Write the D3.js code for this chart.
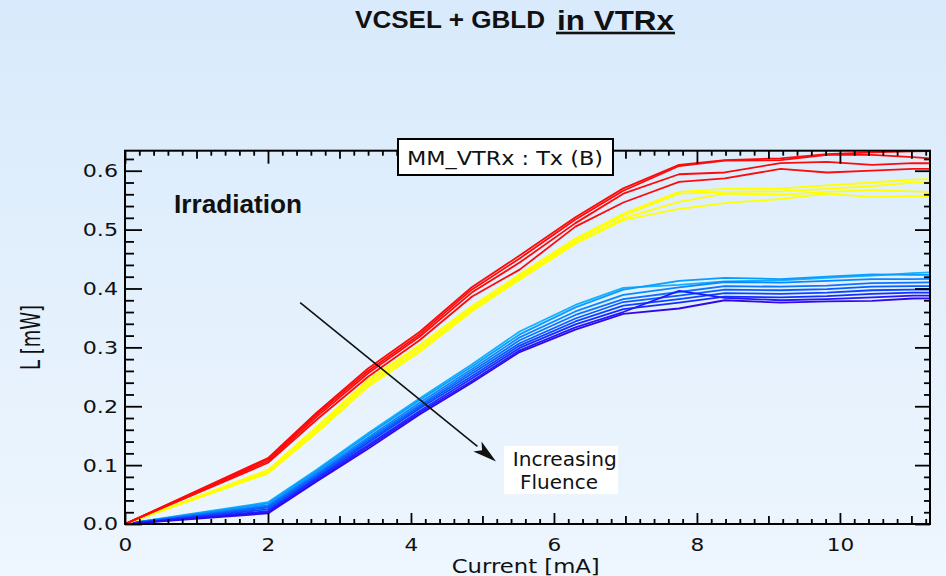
<!DOCTYPE html>
<html>
<head>
<meta charset="utf-8">
<script src="https://cdn.jsdelivr.net/npm/d3@7"></script>
<style>
  html, body { margin: 0; padding: 0; background: #e3effb; }
  svg { display: block; }
</style>
</head>
<body>
<svg id="chart" width="946" height="576"></svg>
<script>
// Drive current (mA) at which light output was sampled
const currents = [0, 2, 2.68, 3.4, 4.12, 4.85, 5.52, 6.3, 6.97, 7.75, 8.39, 9.17, 9.82, 10.45, 11.02, 11.7];

// Optical power L (mW), pre-irradiation (red)
const redCurves = [
  [0, 0.112, 0.189, 0.264, 0.326, 0.402, 0.456, 0.521, 0.570, 0.610, 0.618, 0.621, 0.628, 0.631, 0.633, 0.634],
  [0, 0.110, 0.186, 0.260, 0.322, 0.398, 0.451, 0.517, 0.566, 0.608, 0.617, 0.618, 0.627, 0.627, 0.623, 0.617],
  [0, 0.107, 0.182, 0.256, 0.318, 0.393, 0.444, 0.511, 0.561, 0.594, 0.597, 0.613, 0.615, 0.610, 0.613, 0.612],
  [0, 0.104, 0.177, 0.250, 0.312, 0.386, 0.432, 0.505, 0.546, 0.581, 0.587, 0.603, 0.597, 0.600, 0.603, 0.603]
];

// Optical power L (mW), first fluence step (yellow)
const yellowCurves = [
  [0, 0.092, 0.165, 0.245, 0.304, 0.370, 0.424, 0.485, 0.527, 0.564, 0.569, 0.570, 0.575, 0.580, 0.585, 0.587],
  [0, 0.090, 0.162, 0.241, 0.300, 0.367, 0.421, 0.482, 0.524, 0.561, 0.564, 0.565, 0.569, 0.574, 0.580, 0.580],
  [0, 0.088, 0.158, 0.237, 0.296, 0.364, 0.418, 0.479, 0.519, 0.547, 0.561, 0.559, 0.564, 0.567, 0.565, 0.562],
  [0, 0.086, 0.155, 0.233, 0.292, 0.361, 0.415, 0.476, 0.516, 0.535, 0.545, 0.552, 0.561, 0.555, 0.557, 0.557]
];

// Optical power L (mW), increasing fluence (light blue -> violet)
const blueCurves = [
  [0, 0.037, 0.092, 0.154, 0.213, 0.271, 0.327, 0.372, 0.401, 0.406, 0.412, 0.414, 0.418, 0.422, 0.426, 0.430],
  [0, 0.035, 0.090, 0.151, 0.210, 0.267, 0.322, 0.368, 0.398, 0.413, 0.418, 0.416, 0.420, 0.424, 0.423, 0.423],
  [0, 0.032, 0.087, 0.147, 0.206, 0.263, 0.317, 0.361, 0.389, 0.402, 0.411, 0.410, 0.413, 0.416, 0.416, 0.417],
  [0, 0.030, 0.084, 0.144, 0.202, 0.259, 0.312, 0.355, 0.382, 0.394, 0.404, 0.403, 0.405, 0.409, 0.410, 0.411],
  [0, 0.028, 0.082, 0.141, 0.199, 0.255, 0.307, 0.349, 0.377, 0.388, 0.398, 0.397, 0.399, 0.403, 0.404, 0.404],
  [0, 0.025, 0.079, 0.138, 0.196, 0.251, 0.303, 0.344, 0.371, 0.382, 0.392, 0.391, 0.393, 0.397, 0.398, 0.398],
  [0, 0.022, 0.077, 0.134, 0.192, 0.247, 0.299, 0.339, 0.365, 0.376, 0.386, 0.385, 0.387, 0.391, 0.393, 0.393],
  [0, 0.020, 0.074, 0.131, 0.189, 0.243, 0.295, 0.334, 0.360, 0.396, 0.384, 0.380, 0.382, 0.385, 0.388, 0.388],
  [0, 0.018, 0.072, 0.128, 0.186, 0.240, 0.292, 0.330, 0.357, 0.366, 0.380, 0.376, 0.378, 0.379, 0.383, 0.384]
];

const blueColors = ["#12b0ff", "#0a9cff", "#0a88ff", "#0a74ff", "#0a5cff", "#0a44ff", "#142cff", "#2418f6", "#3208ea"];

// Axis ticks
const xTickValues = [0, 2, 4, 6, 8, 10];
const xTickLabels = ["0", "2", "4", "6", "8", "10"];
const yTickValues = [0, 0.1, 0.2, 0.3, 0.4, 0.5, 0.6];
const yTickLabels = ["0.0", "0.1", "0.2", "0.3", "0.4", "0.5", "0.6"];

const svg = d3.select("#chart");
const W = 946, H = 576;
const plot = { left: 125, right: 930, top: 150.7, bottom: 524 };

const x = d3.scaleLinear().domain([0, 11.26]).range([plot.left, plot.right]);
const y = d3.scaleLinear().domain([0, 0.634]).range([plot.bottom, plot.top]);

// Background gradient
const defs = svg.append("defs");
const grad = defs.append("linearGradient").attr("id", "bg")
  .attr("x1", 0).attr("y1", 0).attr("x2", 0).attr("y2", 1);
grad.append("stop").attr("offset", "0%").attr("stop-color", "#d8eafb");
grad.append("stop").attr("offset", "100%").attr("stop-color", "#eef6fe");
svg.append("rect").attr("width", W).attr("height", H).attr("fill", "url(#bg)");

defs.append("clipPath").attr("id", "plotClip").append("rect")
  .attr("x", plot.left).attr("y", plot.top)
  .attr("width", plot.right - plot.left).attr("height", plot.bottom - plot.top);

// Title
const title = svg.append("g").attr("font-family", "Liberation Sans, Arial, sans-serif").attr("font-weight", "bold").attr("fill", "#111");
title.append("text").attr("x", 355).attr("y", 28).attr("font-size", 23.5)
  .attr("textLength", 190).attr("lengthAdjust", "spacingAndGlyphs").text("VCSEL + GBLD");
title.append("text").attr("x", 557).attr("y", 29.5).attr("font-size", 28)
  .attr("textLength", 117).attr("lengthAdjust", "spacingAndGlyphs").text("in VTRx");
title.append("rect").attr("x", 556).attr("y", 31.7).attr("width", 119).attr("height", 2.6).attr("fill", "#111");

// Curves
const line = d3.line().x((d, i) => x(currents[i])).y(d => y(d));
const curves = svg.append("g").attr("clip-path", "url(#plotClip)").attr("fill", "none")
  .attr("stroke-linejoin", "round");

curves.selectAll("path.blue").data(blueCurves).join("path").attr("class", "blue")
  .attr("d", line).attr("stroke", (d, i) => blueColors[i]).attr("stroke-width", 1.8);
curves.selectAll("path.yellow").data(yellowCurves).join("path").attr("class", "yellow")
  .attr("d", line).attr("stroke", "#ffff00").attr("stroke-width", 1.8);
curves.selectAll("path.red").data(redCurves).join("path").attr("class", "red")
  .attr("d", line).attr("stroke", "#ff0a0a").attr("stroke-width", 1.8);

// Axes: ticks point inward on all four sides
const tickFont = "DejaVu Sans, Verdana, sans-serif";
const SX = 1.2;
const near = (v, arr) => arr.some(a => Math.abs(a - v) < 1e-6);

const xMinor = d3.range(0, 11.27, 0.2).map(v => +v.toFixed(2)).filter(v => Math.abs(v - Math.round(v)) > 1e-6);
const xOdd = [1, 3, 5, 7, 9, 11];
const yMinor = d3.range(0, 0.634, 0.02).map(v => +v.toFixed(3)).filter(v => !near(v, yTickValues));

function styleAxis(g) {
  g.select(".domain").remove();
  g.selectAll("line").attr("stroke", "#000").attr("stroke-width", 1.8);
}

// bottom
svg.append("g").attr("transform", `translate(0,${plot.bottom})`)
  .call(d3.axisBottom(x).tickValues(xMinor).tickSize(-5).tickFormat("")).call(styleAxis);
svg.append("g").attr("transform", `translate(0,${plot.bottom})`)
  .call(d3.axisBottom(x).tickValues(xOdd).tickSize(-8).tickFormat("")).call(styleAxis);
const xAxisG = svg.append("g").attr("transform", `translate(0,${plot.bottom})`)
  .call(d3.axisBottom(x).tickValues(xTickValues).tickSize(-11).tickPadding(14)
    .tickFormat((d, i) => xTickLabels[i])).call(styleAxis);
xAxisG.selectAll("text").attr("font-family", tickFont).attr("font-size", 18)
  .attr("fill", "#111").attr("transform", `scale(${SX},1)`);

// top
svg.append("g").attr("transform", `translate(0,${plot.top})`)
  .call(d3.axisTop(x).tickValues(xMinor).tickSize(-5).tickFormat("")).call(styleAxis);
svg.append("g").attr("transform", `translate(0,${plot.top})`)
  .call(d3.axisTop(x).tickValues(xOdd).tickSize(-8).tickFormat("")).call(styleAxis);
svg.append("g").attr("transform", `translate(0,${plot.top})`)
  .call(d3.axisTop(x).tickValues(xTickValues).tickSize(-13).tickFormat("")).call(styleAxis);

// left
svg.append("g").attr("transform", `translate(${plot.left},0)`)
  .call(d3.axisLeft(y).tickValues(yMinor).tickSize(-9).tickFormat("")).call(styleAxis);
const yAxisG = svg.append("g").attr("transform", `translate(${plot.left},0)`)
  .call(d3.axisLeft(y).tickValues(yTickValues).tickSize(-17).tickPadding(5.8)
    .tickFormat((d, i) => yTickLabels[i])).call(styleAxis);
yAxisG.selectAll("text").attr("font-family", tickFont).attr("font-size", 18.5)
  .attr("fill", "#111").attr("transform", `scale(${SX},1)`);

// right
svg.append("g").attr("transform", `translate(${plot.right},0)`)
  .call(d3.axisRight(y).tickValues(yMinor).tickSize(-6).tickFormat("")).call(styleAxis);
svg.append("g").attr("transform", `translate(${plot.right},0)`)
  .call(d3.axisRight(y).tickValues(yTickValues).tickSize(-15).tickFormat("")).call(styleAxis);

// frame
svg.append("rect").attr("x", plot.left).attr("y", plot.top)
  .attr("width", plot.right - plot.left).attr("height", plot.bottom - plot.top)
  .attr("fill", "none").attr("stroke", "#000").attr("stroke-width", 2);

// Axis titles
svg.append("text").attr("x", 451.7).attr("y", 572.5).attr("font-family", tickFont).attr("font-size", 19)
  .attr("fill", "#111").attr("textLength", 148).attr("lengthAdjust", "spacingAndGlyphs").text("Current [mA]");
svg.append("text").attr("transform", "translate(40,370) scale(1.45,1) rotate(-90)")
  .attr("font-family", tickFont).attr("font-size", 18).attr("fill", "#111")
  .attr("textLength", 65).attr("lengthAdjust", "spacingAndGlyphs").text("L [mW]");

// Plot label box
svg.append("rect").attr("x", 398).attr("y", 139).attr("width", 215).attr("height", 36)
  .attr("fill", "#fff").attr("stroke", "#000").attr("stroke-width", 2);
svg.append("text").attr("x", 407).attr("y", 165).attr("font-family", tickFont).attr("font-size", 20)
  .attr("fill", "#111").attr("textLength", 196).attr("lengthAdjust", "spacingAndGlyphs").text("MM_VTRx : Tx (B)");

// Irradiation label
svg.append("text").attr("x", 174).attr("y", 213).attr("font-family", "Liberation Sans, Arial, sans-serif")
  .attr("font-weight", "bold").attr("font-size", 26).attr("fill", "#111")
  .attr("textLength", 128).attr("lengthAdjust", "spacingAndGlyphs").text("Irradiation");

// Fluence arrow
const arrowFrom = [2.45, 0.376], arrowTo = [5.19, 0.106];
const ax0 = x(arrowFrom[0]), ay0 = y(arrowFrom[1]), ax1 = x(arrowTo[0]), ay1 = y(arrowTo[1]);
const ang = Math.atan2(ay1 - ay0, ax1 - ax0);
const headLen = 24, headHalf = 6.5;
const bx = ax1 - headLen * Math.cos(ang), by = ay1 - headLen * Math.sin(ang);
svg.append("line").attr("x1", ax0).attr("y1", ay0).attr("x2", bx).attr("y2", by)
  .attr("stroke", "#111").attr("stroke-width", 1.6);
svg.append("path").attr("fill", "#111").attr("d", d3.line()([
  [ax1, ay1],
  [bx + headHalf * Math.sin(ang), by - headHalf * Math.cos(ang)],
  [bx + 0.25 * headLen * Math.cos(ang), by + 0.25 * headLen * Math.sin(ang)],
  [bx - headHalf * Math.sin(ang), by + headHalf * Math.cos(ang)]
]) + "Z");

// Increasing fluence note
svg.append("rect").attr("x", 504).attr("y", 446).attr("width", 114).attr("height", 48).attr("fill", "#fff");
svg.append("text").attr("x", 512.7).attr("y", 466).attr("font-family", tickFont).attr("font-size", 19.5)
  .attr("fill", "#111").attr("textLength", 104).attr("lengthAdjust", "spacingAndGlyphs").text("Increasing");
svg.append("text").attr("x", 520).attr("y", 489.3).attr("font-family", tickFont).attr("font-size", 19.5)
  .attr("fill", "#111").attr("textLength", 78).attr("lengthAdjust", "spacingAndGlyphs").text("Fluence");
</script>
</body>
</html>
